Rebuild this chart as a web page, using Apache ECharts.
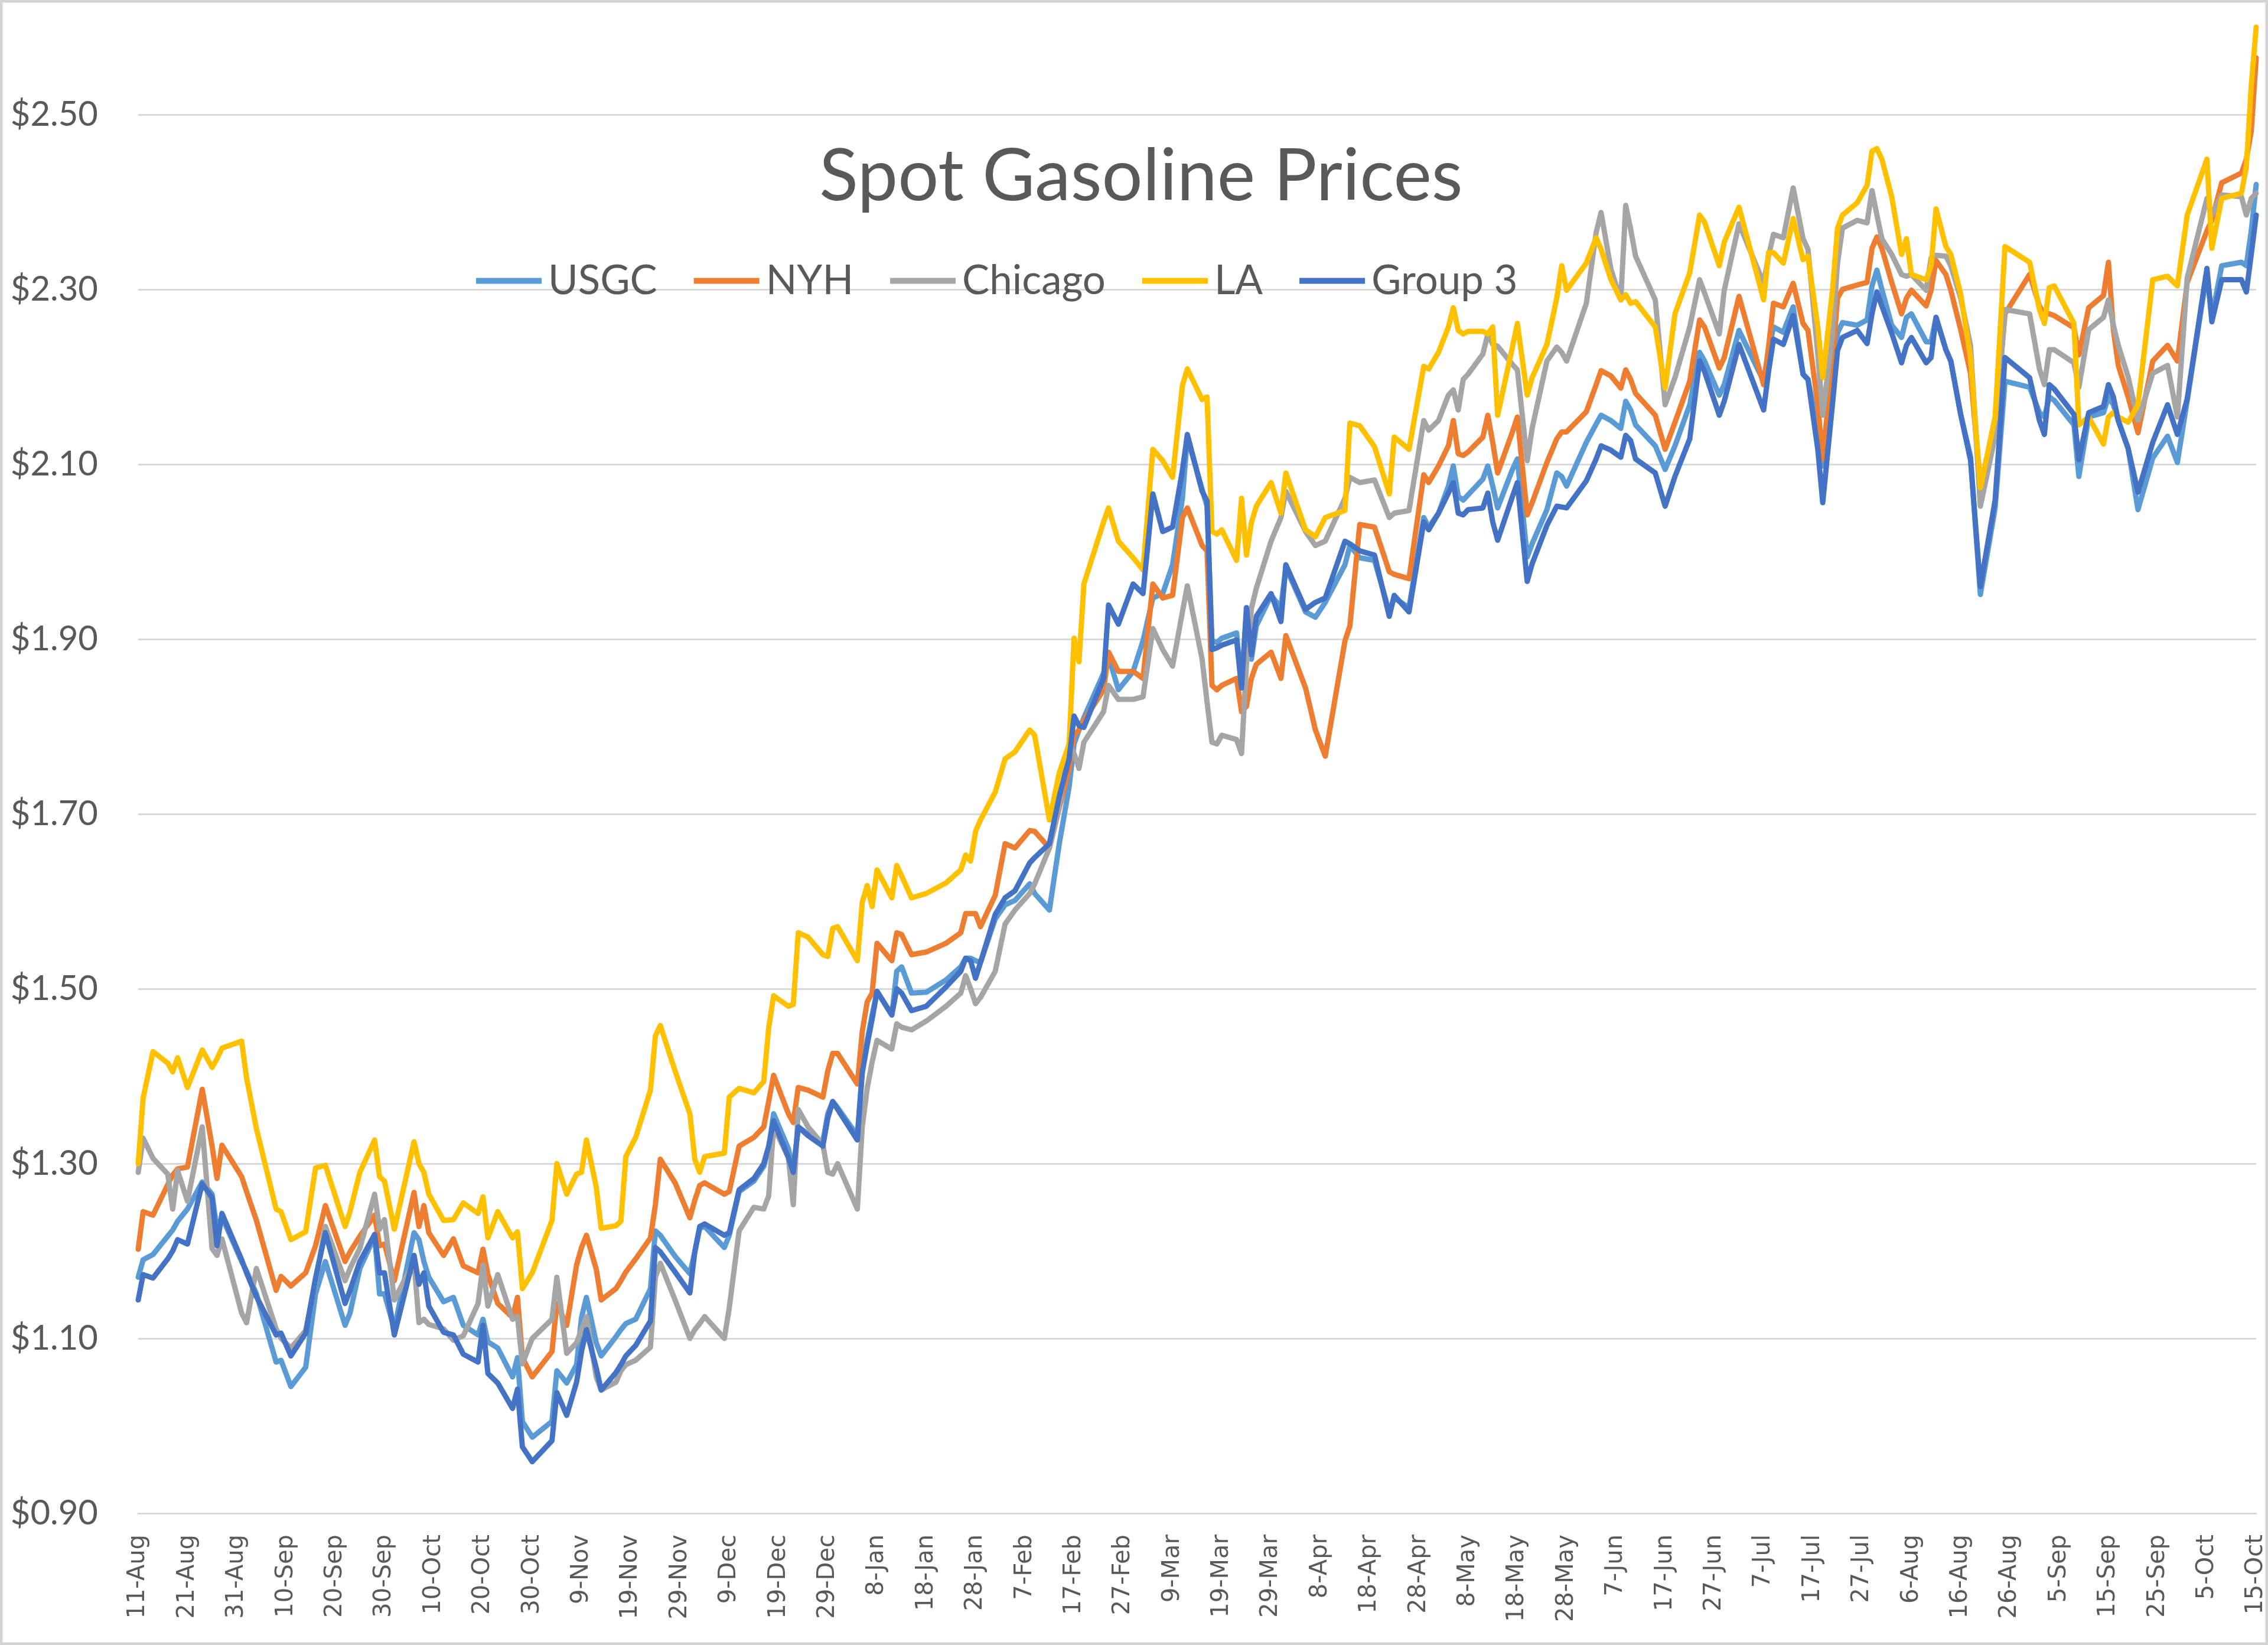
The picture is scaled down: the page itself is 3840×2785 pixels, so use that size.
<!DOCTYPE html>
<html>
<head>
<meta charset="utf-8">
<script src="https://cdn.jsdelivr.net/npm/echarts@6.0.0/dist/echarts.min.js"></script>
<style>
html,body{margin:0;padding:0;background:#ffffff;}
#chart{width:3840px;height:2785px;}
</style>
</head>
<body>
<div id="chart"></div>
<script>
// ---- dates of the sampled observations ----
const dates = [
 '2020-08-11','2020-08-12','2020-08-14','2020-08-17','2020-08-18','2020-08-19','2020-08-21','2020-08-24','2020-08-26','2020-08-27','2020-08-28','2020-09-01','2020-09-02','2020-09-04','2020-09-08','2020-09-09','2020-09-11','2020-09-14','2020-09-16','2020-09-18','2020-09-22','2020-09-23','2020-09-25','2020-09-28','2020-09-29','2020-09-30','2020-10-02','2020-10-06','2020-10-07','2020-10-08','2020-10-09','2020-10-12','2020-10-14','2020-10-16','2020-10-19','2020-10-20','2020-10-21','2020-10-23','2020-10-26','2020-10-27','2020-10-28','2020-10-30','2020-11-03','2020-11-04','2020-11-06',
 '2020-11-08','2020-11-09','2020-11-10','2020-11-12','2020-11-13','2020-11-16','2020-11-17','2020-11-18','2020-11-20','2020-11-23','2020-11-24','2020-11-25','2020-11-28','2020-12-01','2020-12-02','2020-12-03','2020-12-04','2020-12-08','2020-12-09','2020-12-11','2020-12-14','2020-12-16','2020-12-17','2020-12-18','2020-12-21','2020-12-22','2020-12-23','2020-12-25','2020-12-28','2020-12-29','2020-12-30','2020-12-31','2021-01-04','2021-01-05','2021-01-06','2021-01-07','2021-01-08','2021-01-11','2021-01-12','2021-01-13','2021-01-15','2021-01-18','2021-01-22','2021-01-25','2021-01-26','2021-01-27','2021-01-28',
 '2021-01-29','2021-02-01','2021-02-03','2021-02-05','2021-02-08','2021-02-09','2021-02-12','2021-02-14','2021-02-16','2021-02-17','2021-02-18','2021-02-19','2021-02-23','2021-02-24','2021-02-26','2021-03-01','2021-03-03','2021-03-05','2021-03-07','2021-03-09','2021-03-11','2021-03-12','2021-03-15','2021-03-16','2021-03-17','2021-03-18','2021-03-19','2021-03-22','2021-03-23','2021-03-24','2021-03-25','2021-03-26','2021-03-29','2021-03-31','2021-04-01','2021-04-05','2021-04-07','2021-04-09','2021-04-13','2021-04-14','2021-04-16','2021-04-19','2021-04-22','2021-04-23','2021-04-26','2021-04-29','2021-04-30','2021-05-02',
 '2021-05-04','2021-05-05','2021-05-06','2021-05-07','2021-05-08','2021-05-11','2021-05-12','2021-05-13','2021-05-14','2021-05-17','2021-05-18','2021-05-20','2021-05-21','2021-05-24','2021-05-26','2021-05-27','2021-05-28','2021-06-01','2021-06-03','2021-06-04','2021-06-06','2021-06-08','2021-06-09','2021-06-10','2021-06-11','2021-06-15','2021-06-17','2021-06-19','2021-06-22','2021-06-24','2021-06-25','2021-06-28','2021-06-29','2021-07-02','2021-07-07','2021-07-08','2021-07-09','2021-07-11','2021-07-13','2021-07-15','2021-07-16','2021-07-18','2021-07-19','2021-07-21','2021-07-22','2021-07-23',
 '2021-07-26','2021-07-28','2021-07-29','2021-07-30','2021-07-31','2021-08-02','2021-08-04','2021-08-05','2021-08-06','2021-08-09','2021-08-10','2021-08-11','2021-08-13','2021-08-14','2021-08-16','2021-08-18','2021-08-20','2021-08-23','2021-08-25','2021-08-30','2021-09-01','2021-09-02','2021-09-03','2021-09-04','2021-09-08','2021-09-09','2021-09-11','2021-09-14','2021-09-15','2021-09-16','2021-09-17','2021-09-19','2021-09-21','2021-09-24','2021-09-27','2021-09-29','2021-10-01','2021-10-05','2021-10-06','2021-10-08','2021-10-12','2021-10-13','2021-10-14','2021-10-15'
];

// ---- series values ($/gal) ----
const usgc = [
 1.17,1.19,1.196,1.217,1.224,1.234,1.248,1.279,1.265,1.224,1.239,1.188,1.177,1.151,1.073,1.075,1.045,1.067,1.151,1.188,1.115,1.129,1.180,1.217,1.151,1.151,1.111,1.221,1.213,1.188,1.170,1.142,1.147,1.115,1.104,1.122,1.096,1.089,1.056,1.078,1.005,0.987,1.005,1.063,1.049,
 1.070,1.124,1.147,1.095,1.080,1.102,1.110,1.117,1.122,1.157,1.223,1.218,1.194,1.174,1.199,1.226,1.228,1.204,1.218,1.268,1.280,1.297,1.317,1.357,1.317,1.292,1.342,1.334,1.325,1.357,1.371,1.364,1.332,1.406,1.441,1.470,1.497,1.470,1.520,1.525,1.495,1.496,1.510,1.525,1.535,1.535,1.532,
 1.53,1.580,1.596,1.601,1.620,1.609,1.590,1.666,1.731,1.780,1.796,1.810,1.861,1.880,1.842,1.863,1.898,1.947,1.952,1.985,2.061,2.131,2.071,2.052,1.898,1.896,1.901,1.907,1.844,1.931,1.877,1.915,1.950,1.936,1.982,1.931,1.925,1.942,1.985,2.007,1.993,1.990,1.931,1.947,1.936,2.039,2.028,2.044,
 2.075,2.098,2.063,2.059,2.065,2.083,2.098,2.075,2.050,2.094,2.106,1.994,2.009,2.048,2.090,2.086,2.075,2.125,2.146,2.156,2.150,2.141,2.172,2.162,2.145,2.121,2.094,2.121,2.168,2.228,2.218,2.179,2.191,2.253,2.195,2.230,2.257,2.251,2.280,2.203,2.197,2.141,2.098,2.19,2.25,2.262,
 2.259,2.265,2.304,2.322,2.300,2.259,2.245,2.268,2.272,2.240,2.240,2.268,2.231,2.218,2.157,2.109,1.951,2.050,2.195,2.188,2.159,2.154,2.177,2.173,2.145,2.086,2.154,2.159,2.177,2.168,2.150,2.118,2.048,2.107,2.132,2.102,2.173,2.32,2.268,2.327,2.331,2.327,2.367,2.42
];
const nyh = [
 1.202,1.245,1.241,1.276,1.287,1.294,1.296,1.385,1.32,1.283,1.321,1.285,1.268,1.235,1.155,1.171,1.160,1.175,1.206,1.252,1.188,1.199,1.217,1.241,1.206,1.208,1.166,1.267,1.228,1.252,1.221,1.195,1.214,1.183,1.175,1.202,1.173,1.140,1.124,1.147,1.078,1.056,1.085,1.140,1.115,
 1.184,1.204,1.218,1.179,1.144,1.157,1.166,1.176,1.191,1.215,1.253,1.305,1.278,1.238,1.258,1.275,1.278,1.265,1.268,1.320,1.330,1.342,1.371,1.401,1.357,1.347,1.387,1.384,1.376,1.406,1.426,1.426,1.391,1.451,1.485,1.495,1.552,1.532,1.564,1.562,1.539,1.542,1.552,1.564,1.586,1.586,1.586,
 1.571,1.607,1.666,1.661,1.681,1.680,1.661,1.707,1.752,1.790,1.796,1.807,1.842,1.885,1.863,1.863,1.855,1.963,1.947,1.950,2.039,2.050,2.007,2.001,1.847,1.842,1.847,1.855,1.817,1.823,1.855,1.871,1.885,1.855,1.904,1.844,1.796,1.766,1.898,1.915,2.031,2.028,1.977,1.974,1.969,2.088,2.079,2.098,
 2.121,2.150,2.112,2.110,2.114,2.131,2.156,2.125,2.090,2.137,2.154,2.042,2.056,2.102,2.129,2.137,2.137,2.160,2.191,2.207,2.201,2.187,2.208,2.197,2.181,2.156,2.117,2.148,2.195,2.265,2.257,2.210,2.222,2.292,2.191,2.234,2.284,2.280,2.307,2.261,2.253,2.168,2.106,2.22,2.29,2.30,
 2.305,2.308,2.347,2.360,2.347,2.308,2.272,2.290,2.299,2.281,2.299,2.333,2.317,2.299,2.254,2.204,2.077,2.141,2.272,2.317,2.281,2.272,2.272,2.270,2.256,2.225,2.279,2.293,2.331,2.254,2.213,2.177,2.136,2.218,2.236,2.218,2.308,2.367,2.379,2.422,2.433,2.449,2.481,2.565
];
const chicago = [
 1.290,1.329,1.306,1.288,1.248,1.292,1.257,1.342,1.203,1.195,1.214,1.129,1.118,1.180,1.111,1.100,1.089,1.109,1.166,1.228,1.166,1.180,1.203,1.265,1.225,1.236,1.144,1.188,1.118,1.122,1.116,1.111,1.098,1.103,1.140,1.184,1.137,1.173,1.122,1.125,1.071,1.100,1.122,1.170,1.083,
 1.095,1.110,1.125,1.056,1.041,1.050,1.063,1.070,1.075,1.090,1.170,1.186,1.144,1.100,1.110,1.117,1.125,1.100,1.135,1.223,1.250,1.248,1.263,1.342,1.307,1.253,1.362,1.342,1.322,1.290,1.288,1.300,1.248,1.342,1.386,1.416,1.441,1.431,1.460,1.456,1.453,1.463,1.480,1.495,1.515,1.500,1.483,
 1.49,1.520,1.574,1.590,1.609,1.62,1.661,1.709,1.780,1.769,1.752,1.782,1.817,1.847,1.831,1.831,1.834,1.912,1.888,1.869,1.931,1.961,1.877,1.828,1.782,1.780,1.790,1.785,1.769,1.87,1.935,1.958,2.012,2.039,2.069,2.023,2.007,2.012,2.061,2.085,2.079,2.082,2.039,2.044,2.047,2.150,2.139,2.150,
 2.179,2.185,2.162,2.197,2.203,2.226,2.249,2.237,2.235,2.214,2.208,2.104,2.141,2.218,2.234,2.228,2.218,2.284,2.365,2.388,2.323,2.288,2.396,2.369,2.338,2.288,2.168,2.199,2.257,2.311,2.296,2.249,2.299,2.375,2.307,2.338,2.363,2.359,2.416,2.358,2.346,2.226,2.156,2.25,2.33,2.37,
 2.379,2.376,2.413,2.385,2.358,2.340,2.317,2.315,2.317,2.299,2.336,2.339,2.338,2.327,2.290,2.236,2.052,2.132,2.277,2.272,2.209,2.191,2.231,2.231,2.216,2.188,2.254,2.268,2.288,2.259,2.236,2.200,2.150,2.204,2.213,2.154,2.313,2.404,2.385,2.408,2.406,2.385,2.404,2.41
];
const la = [
 1.30,1.375,1.428,1.415,1.405,1.421,1.387,1.43,1.41,1.42,1.432,1.44,1.398,1.34,1.248,1.245,1.213,1.222,1.295,1.298,1.228,1.245,1.29,1.327,1.285,1.28,1.225,1.325,1.30,1.29,1.265,1.235,1.236,1.255,1.243,1.262,1.215,1.245,1.215,1.222,1.157,1.175,1.235,1.30,1.265,
 1.288,1.290,1.327,1.273,1.226,1.229,1.234,1.308,1.330,1.384,1.446,1.458,1.406,1.357,1.305,1.290,1.308,1.312,1.376,1.386,1.381,1.394,1.455,1.492,1.480,1.482,1.564,1.559,1.539,1.537,1.569,1.571,1.532,1.599,1.618,1.594,1.636,1.604,1.641,1.629,1.604,1.609,1.621,1.636,1.653,1.646,1.680,
 1.693,1.725,1.763,1.771,1.796,1.790,1.693,1.747,1.780,1.901,1.874,1.963,2.034,2.050,2.012,1.993,1.979,2.117,2.104,2.085,2.190,2.209,2.174,2.177,2.023,2.020,2.025,1.99,2.061,1.996,2.033,2.052,2.079,2.044,2.090,2.025,2.017,2.039,2.047,2.147,2.144,2.120,2.066,2.131,2.117,2.212,2.209,2.228,
 2.257,2.279,2.253,2.249,2.252,2.252,2.249,2.257,2.156,2.234,2.261,2.179,2.199,2.237,2.290,2.327,2.299,2.330,2.359,2.346,2.311,2.288,2.294,2.284,2.286,2.257,2.187,2.272,2.319,2.385,2.377,2.327,2.354,2.394,2.288,2.342,2.342,2.330,2.381,2.334,2.338,2.257,2.199,2.30,2.37,2.385,
 2.399,2.419,2.458,2.461,2.449,2.406,2.340,2.358,2.317,2.311,2.327,2.392,2.349,2.340,2.295,2.222,2.073,2.154,2.349,2.331,2.277,2.261,2.302,2.304,2.261,2.145,2.154,2.123,2.154,2.159,2.154,2.148,2.168,2.311,2.315,2.304,2.385,2.449,2.347,2.404,2.410,2.440,2.533,2.60
];
const group3 = [
 1.144,1.173,1.169,1.191,1.200,1.213,1.208,1.277,1.261,1.206,1.243,1.190,1.175,1.148,1.104,1.106,1.080,1.106,1.169,1.221,1.140,1.155,1.188,1.219,1.175,1.175,1.104,1.195,1.162,1.175,1.137,1.107,1.104,1.082,1.073,1.115,1.060,1.049,1.020,1.042,0.976,0.959,0.983,1.038,1.012,
 1.050,1.085,1.110,1.066,1.041,1.061,1.070,1.080,1.092,1.120,1.204,1.199,1.176,1.152,1.199,1.228,1.231,1.218,1.221,1.270,1.283,1.300,1.320,1.349,1.307,1.290,1.342,1.332,1.320,1.352,1.371,1.362,1.327,1.404,1.436,1.465,1.497,1.470,1.500,1.495,1.475,1.480,1.502,1.520,1.535,1.532,1.512,
 1.53,1.585,1.604,1.612,1.644,1.650,1.666,1.720,1.763,1.812,1.801,1.799,1.855,1.939,1.917,1.963,1.952,2.066,2.023,2.028,2.093,2.134,2.069,2.058,1.888,1.890,1.893,1.899,1.844,1.936,1.882,1.926,1.952,1.920,1.985,1.934,1.942,1.947,2.012,2.009,2.001,1.996,1.926,1.950,1.931,2.034,2.025,2.044,
 2.067,2.079,2.044,2.042,2.048,2.050,2.067,2.034,2.013,2.063,2.079,1.966,1.986,2.030,2.052,2.051,2.050,2.081,2.106,2.121,2.116,2.108,2.133,2.127,2.106,2.090,2.052,2.086,2.129,2.218,2.206,2.156,2.172,2.237,2.162,2.206,2.243,2.237,2.270,2.203,2.197,2.117,2.056,2.17,2.23,2.245,
 2.253,2.238,2.272,2.297,2.281,2.250,2.216,2.236,2.245,2.216,2.222,2.268,2.231,2.218,2.157,2.105,1.960,2.059,2.222,2.199,2.150,2.134,2.191,2.186,2.157,2.105,2.159,2.166,2.191,2.177,2.150,2.118,2.068,2.125,2.168,2.134,2.175,2.324,2.263,2.311,2.311,2.297,2.340,2.385
];

// ---- axis tick labels ----
const yTicks = [0.90, 1.10, 1.30, 1.50, 1.70, 1.90, 2.10, 2.30, 2.50];
const seriesNames = ['USGC', 'NYH', 'Chicago', 'LA', 'Group 3'];
const monthNames = ['Jan','Feb','Mar','Apr','May','Jun','Jul','Aug','Sep','Oct','Nov','Dec'];
const firstDate = '2020-08-11';
const lastDate = '2021-10-15';

// ---- helpers ----
function utc(s) { const p = s.split('-').map(Number); return Date.UTC(p[0], p[1] - 1, p[2]); }
const base = utc(firstDate);
const DAY = 86400000;
function offset(s) { return Math.round((utc(s) - base) / DAY); }
function dayLabel(off) { const d = new Date(base + off * DAY); return d.getUTCDate() + '-' + monthNames[d.getUTCMonth()]; }

const values = [usgc, nyh, chicago, la, group3];
const colors = ['#5B9BD5', '#ED7D31', '#A5A5A5', '#FFC000', '#4472C4'];

const chart = echarts.init(document.getElementById('chart'), null, { renderer: 'canvas' });
const txt = '#595959';

chart.setOption({
  backgroundColor: '#ffffff',
  animation: false,
  title: {
    text: 'Spot Gasoline Prices',
    left: 1382, top: 234,
    textStyle: { fontFamily: 'Lato', fontSize: 122, fontWeight: 'normal', color: txt }
  },
  legend: {
    data: seriesNames,
    left: 801, top: 436,
    icon: 'rect',
    itemWidth: 111, itemHeight: 10, itemGap: 62,
    textStyle: { fontFamily: 'Lato', fontSize: 69, color: txt, padding: [0, 0, 0, 6] }
  },
  graphic: [{
    type: 'rect', silent: true, z: 100,
    shape: { x: 2, y: 2, width: 3836, height: 2781 },
    style: { fill: 'none', stroke: '#d4d4d4', lineWidth: 5 }
  }],
  grid: { left: 234, right: 20, top: 0, bottom: 223, containLabel: false, outerBoundsMode: 'none' },
  xAxis: {
    type: 'value',
    min: 0, max: offset(lastDate), interval: 10,
    axisLine: { show: true, lineStyle: { color: '#d9d9d9', width: 3 } },
    axisTick: { show: false },
    splitLine: { show: false },
    axisLabel: {
      rotate: 90, margin: 36,
      fontFamily: 'DejaVu Sans', fontSize: 40, color: txt,
      showMinLabel: true, showMaxLabel: true, hideOverlap: false,
      formatter: v => dayLabel(v)
    }
  },
  yAxis: {
    type: 'value',
    min: 0.90, max: 2.631,
    axisLine: { show: false },
    axisTick: { show: false, customValues: yTicks },
    splitLine: { show: true, lineStyle: { color: '#d9d9d9', width: 3 } },
    axisLabel: {
      customValues: yTicks,
      margin: 68,
      fontFamily: 'Lato', fontSize: 58, color: txt,
      formatter: v => '$' + v.toFixed(2)
    }
  },
  series: seriesNames.map((name, k) => ({
    name: name,
    type: 'line',
    showSymbol: false,
    symbol: 'none',
    color: colors[k],
    lineStyle: { color: colors[k], width: 9, cap: 'round', join: 'round' },
    emphasis: { disabled: true },
    data: dates.map((d, i) => [offset(d), values[k][i]])
  }))
});
</script>
</body>
</html>
